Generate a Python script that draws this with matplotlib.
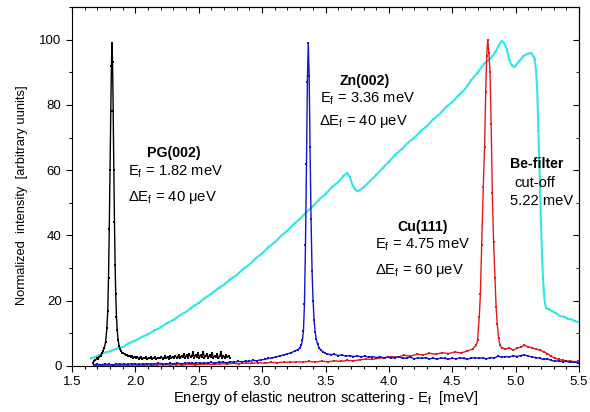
import numpy as np
import matplotlib
matplotlib.use('Agg')
import matplotlib.pyplot as plt
from matplotlib.ticker import MultipleLocator

plt.rcParams['font.family'] = ['Liberation Sans', 'DejaVu Sans']
plt.rcParams['font.size'] = 9

# PG(002) analyser scan
pg_e = [1.665, 1.675, 1.685, 1.695, 1.705, 1.715, 1.725, 1.735, 1.745, 1.755,
        1.765, 1.775, 1.782, 1.788, 1.794, 1.800, 1.806, 1.811, 1.815, 1.820,
        1.825, 1.830, 1.835, 1.840, 1.845, 1.851, 1.857, 1.864, 1.871, 1.879,
        1.887, 1.895,
        1.905, 1.915, 1.925, 1.935, 1.945, 1.955, 1.965, 1.975, 1.985, 1.995,
        2.005, 2.015, 2.025, 2.035, 2.045, 2.055, 2.065, 2.075, 2.085, 2.095,
        2.105, 2.115, 2.125, 2.135, 2.145, 2.155, 2.165, 2.175, 2.185, 2.195,
        2.205, 2.215, 2.225, 2.235, 2.245, 2.255, 2.265, 2.275, 2.285, 2.295,
        2.305, 2.315, 2.325, 2.335, 2.345, 2.355, 2.365, 2.375, 2.385, 2.395,
        2.405, 2.415, 2.425, 2.435, 2.445, 2.455, 2.465, 2.475, 2.485, 2.495,
        2.505, 2.515, 2.525, 2.535, 2.545, 2.555, 2.565, 2.575, 2.585, 2.595,
        2.605, 2.615, 2.625, 2.635, 2.645, 2.655, 2.665, 2.675, 2.685, 2.695,
        2.705, 2.715, 2.725, 2.735, 2.745]
pg_i = [1.0, 1.6, 1.9, 2.3, 2.1, 2.8, 3.2, 3.9, 4.6, 5.6,
        7.4, 11.5, 17, 27, 42, 60, 78, 92, 99, 93,
        78, 60, 44, 31, 22, 15, 11, 8.0, 6.2, 5.2,
        4.6, 4.1,
        3.9, 3.6, 3.3, 3.5, 3.0, 3.2, 2.8, 3.1, 2.6, 2.9,
        2.4, 2.8, 2.2, 2.6, 2.9, 2.1, 2.5, 2.3, 2.7, 2.0,
        2.6, 2.3, 2.8, 2.2, 2.4, 2.9, 2.1, 2.6, 2.3, 2.5,
        2.8, 2.2, 2.6, 3.1, 2.4, 2.7, 2.2, 3.0, 2.5, 2.8,
        2.4, 3.2, 2.6, 2.9, 3.4, 2.5, 3.1, 2.7, 3.6, 2.6,
        3.3, 2.4, 3.8, 2.7, 3.1, 4.2, 2.6, 3.4, 2.8, 3.9,
        2.5, 3.5, 2.9, 4.4, 2.6, 3.2, 3.7, 2.4, 3.3, 2.8,
        4.0, 2.5, 3.1, 2.7, 3.6, 2.3, 3.0, 4.3, 2.6, 3.2,
        2.4, 3.4, 2.7, 3.1, 2.5]

# Zn(002) analyser scan
zn_e = [1.67, 1.70, 1.73, 1.76, 1.79, 1.82, 1.85, 1.88, 1.91, 1.94,
        1.97, 2.00, 2.03, 2.06, 2.09, 2.12, 2.15, 2.18, 2.21, 2.24,
        2.27, 2.30, 2.33, 2.36, 2.39, 2.42, 2.45, 2.48, 2.51, 2.54,
        2.57, 2.60, 2.63, 2.66, 2.69, 2.72, 2.75, 2.78, 2.81, 2.84,
        2.87, 2.90, 2.93, 2.96, 2.99, 3.02, 3.05, 3.08, 3.11, 3.14,
        3.17, 3.20, 3.23, 3.26, 3.28,
        3.300, 3.309, 3.318, 3.326, 3.334, 3.342, 3.350, 3.357, 3.364, 3.371,
        3.378, 3.386, 3.394, 3.402, 3.410, 3.418, 3.427, 3.438, 3.450, 3.465,
        3.480, 3.495,
        3.51, 3.54, 3.57, 3.60, 3.63, 3.66, 3.69, 3.72, 3.75, 3.78,
        3.81, 3.84, 3.87, 3.90, 3.93, 3.96, 3.99, 4.02, 4.05, 4.08,
        4.11, 4.14, 4.17, 4.20, 4.23, 4.26, 4.29, 4.32, 4.35, 4.38,
        4.41, 4.44, 4.47, 4.50, 4.53, 4.56, 4.59, 4.62, 4.65, 4.68,
        4.71, 4.74, 4.77, 4.80, 4.83, 4.86, 4.89, 4.92, 4.95, 4.98,
        5.01, 5.04, 5.07, 5.10, 5.13, 5.16, 5.19, 5.22, 5.25, 5.28,
        5.31, 5.34, 5.37, 5.40, 5.43, 5.46, 5.49]
zn_i = [0.4, 0.5, 0.4, 0.6, 0.5, 0.4, 0.6, 0.5, 0.6, 0.5,
        0.7, 0.6, 0.5, 0.7, 0.6, 0.7, 0.6, 0.8, 0.7, 0.6,
        0.8, 0.7, 0.9, 0.7, 0.8, 1.0, 0.8, 0.9, 1.0, 0.8,
        1.0, 1.1, 0.9, 1.1, 1.2, 1.0, 1.3, 1.2, 1.4, 1.3,
        1.5, 1.4, 1.7, 1.6, 1.9, 2.0, 2.3, 2.5, 2.8, 3.1,
        3.4, 3.7, 4.1, 4.6, 5.0,
        5.6, 6.4, 7.9, 10.8, 19, 37, 62, 87, 99, 89,
        67, 45, 29, 20, 14, 10.5, 8.2, 6.6, 5.5, 4.8,
        4.3, 4.0,
        3.7, 3.5, 3.6, 3.2, 3.4, 3.0, 3.2, 2.9, 3.1, 2.8,
        3.0, 2.7, 2.9, 2.6, 2.8, 2.5, 2.7, 2.4, 2.6, 2.8,
        2.3, 2.5, 2.7, 2.2, 2.5, 2.3, 2.6, 2.2, 2.4, 2.1,
        2.5, 2.3, 2.1, 2.4, 2.2, 2.5, 2.3, 2.1, 2.4, 2.6,
        2.3, 2.5, 2.2, 2.6, 2.4, 3.0, 2.7, 2.9, 2.8, 3.1,
        2.9, 3.2, 3.4, 3.0, 2.8, 2.6, 2.4, 2.0, 2.2, 1.7,
        1.5, 1.6, 1.3, 1.4, 1.1, 1.2, 1.0]

# Cu(111) analyser scan
cu_e = [1.67, 1.72, 1.77, 1.82, 1.87, 1.92, 1.97, 2.02, 2.07, 2.12,
        2.17, 2.22, 2.27, 2.32, 2.37, 2.42, 2.47, 2.52, 2.57, 2.62,
        2.67, 2.72, 2.77, 2.82, 2.87, 2.92, 2.97, 3.02, 3.07, 3.12,
        3.17, 3.22, 3.27, 3.32, 3.37, 3.42, 3.47, 3.52, 3.57, 3.62,
        3.67, 3.72, 3.77, 3.82, 3.87, 3.92, 3.97, 4.02, 4.07, 4.12,
        4.17, 4.22, 4.27, 4.32, 4.37, 4.42, 4.47, 4.52, 4.57, 4.62,
        4.66, 4.69,
        4.700, 4.713, 4.722, 4.732, 4.745, 4.755, 4.764, 4.772, 4.780, 4.789,
        4.798, 4.807, 4.816, 4.826, 4.837, 4.846, 4.855, 4.866, 4.877,
        4.89, 4.92, 4.95, 4.98, 5.01, 5.04, 5.07, 5.10, 5.13, 5.16,
        5.19, 5.22, 5.25, 5.28, 5.31, 5.34, 5.37, 5.40, 5.43, 5.46, 5.49]
cu_i = [0.1, 0.2, 0.1, 0.2, 0.2, 0.1, 0.3, 0.2, 0.3, 0.2,
        0.3, 0.4, 0.3, 0.4, 0.3, 0.5, 0.4, 0.5, 0.6, 0.5,
        0.7, 0.6, 0.8, 0.7, 0.9, 0.8, 1.0, 0.9, 1.1, 1.0,
        1.2, 1.1, 1.3, 1.2, 1.4, 1.2, 1.5, 1.3, 1.6, 1.4,
        1.7, 1.6, 1.9, 2.1, 2.0, 2.4, 2.6, 2.9, 2.7, 3.3,
        3.0, 3.6, 3.4, 3.9, 3.6, 4.1, 3.8, 4.3, 4.0, 4.6,
        5.2, 6.4,
        8, 15, 22, 37, 55, 67, 84, 95, 100, 96,
        90, 74, 53, 38, 27, 18, 13, 8.5, 6.3,
        5.6, 5.2, 5.5, 4.9, 5.4, 5.8, 6.3, 5.9, 5.6, 5.2,
        4.9, 4.4, 3.8, 3.0, 2.4, 2.0, 1.8, 1.5, 1.6, 1.3, 1.4]

# Be-filter transmission
be_e = [1.65, 1.70, 1.75, 1.80, 1.85, 1.90, 1.95, 2.00, 2.05, 2.10,
        2.15, 2.20, 2.25, 2.30, 2.35, 2.40, 2.45, 2.50, 2.55, 2.60,
        2.65, 2.70, 2.75, 2.80, 2.85, 2.90, 2.95, 3.00, 3.05, 3.10,
        3.15, 3.20, 3.25, 3.30, 3.35, 3.40, 3.45, 3.50, 3.55, 3.60,
        3.64, 3.67, 3.69, 3.71, 3.73, 3.75, 3.77, 3.80, 3.85, 3.90,
        3.95, 4.00, 4.05, 4.10, 4.15, 4.20, 4.25, 4.30, 4.35, 4.40,
        4.45, 4.50, 4.55, 4.60, 4.65, 4.70, 4.75, 4.80, 4.84, 4.87,
        4.89, 4.91, 4.93, 4.95, 4.97, 4.99, 5.01, 5.03, 5.06, 5.09,
        5.12, 5.14, 5.15, 5.16, 5.17, 5.18, 5.19, 5.20, 5.21, 5.22,
        5.23, 5.24, 5.26, 5.29, 5.32, 5.35, 5.38, 5.41, 5.44, 5.47, 5.50]
be_i = [2.3, 3.1, 4.0, 4.5, 5.3, 5.8, 7.0, 7.8, 8.9, 9.7,
        10.9, 11.8, 13.1, 14.1, 15.5, 16.6, 18.1, 19.3, 20.9, 22.1,
        23.7, 24.9, 26.6, 27.9, 29.7, 31.1, 33.0, 34.5, 36.4, 37.9,
        39.9, 41.5, 43.5, 45.1, 47.2, 48.9, 51.0, 52.7, 54.7, 56.4,
        58.1, 59.2, 58.0, 55.8, 54.2, 53.5, 53.9, 54.7, 56.6, 58.5,
        60.6, 62.6, 64.7, 66.4, 68.4, 69.9, 71.9, 73.5, 75.6, 77.2,
        79.3, 80.9, 82.9, 84.8, 87.6, 89.9, 92.6, 94.2, 96.1, 98.4,
        99.6, 98.9, 97.1, 93.9, 92.1, 91.5, 92.6, 93.4, 94.9, 95.6,
        95.9, 95.1, 94.0, 91.0, 85.0, 72.0, 58.0, 44.0, 32.0, 24.0,
        19.5, 17.8, 17.4, 16.7, 16.1, 15.3, 15.1, 14.5, 14.3, 13.7, 13.4]

fig = plt.figure(figsize=(5.9, 4.12), dpi=100)
ax = fig.add_axes([72 / 590, 46 / 412, 507 / 590, 359 / 412])

ax.plot(be_e, be_i, color='#33e6e6', lw=1.5, marker='s', ms=2.0, mew=0)
ax.plot(cu_e, cu_i, color='#e01a1a', lw=1.0, marker='s', ms=2.0, mew=0)
ax.plot(zn_e, zn_i, color='#1414c8', lw=1.0, marker='s', ms=2.0, mew=0)
ax.plot(pg_e, pg_i, color='black', lw=1.0, marker='s', ms=2.0, mew=0)

ax.set_xlim(1.5, 5.5)
ax.set_ylim(0, 110)
ax.xaxis.set_major_locator(MultipleLocator(0.5))
ax.xaxis.set_minor_locator(MultipleLocator(0.1))
ax.yaxis.set_major_locator(MultipleLocator(20))
ax.yaxis.set_minor_locator(MultipleLocator(10))
ax.xaxis.set_major_formatter(matplotlib.ticker.FormatStrFormatter('%.1f'))
ax.tick_params(which='major', direction='out', length=4, width=0.8, labelsize=9.5)
ax.tick_params(which='minor', direction='out', length=2.5, width=0.8)

# inward ticks on the top and right frame
top = ax.secondary_xaxis('top')
top.xaxis.set_major_locator(MultipleLocator(0.5))
top.xaxis.set_minor_locator(MultipleLocator(0.1))
top.tick_params(which='major', direction='in', length=4, labeltop=False)
top.tick_params(which='minor', direction='in', length=2.5)
right = ax.secondary_yaxis('right')
right.yaxis.set_major_locator(MultipleLocator(20))
right.yaxis.set_minor_locator(MultipleLocator(10))
right.tick_params(which='major', direction='in', length=4, labelright=False)
right.tick_params(which='minor', direction='in', length=2.5)

ax.set_xlabel(r'Energy of elastic neutron scattering - E$\mathregular{_f}$  [meV]',
              fontsize=10.6)
ax.xaxis.set_label_coords(0.5, -23 / 359, transform=ax.transAxes)
ax.set_ylabel('Normalized  intensity  [arbitrary uunits]', fontsize=9.3)
ax.yaxis.set_label_coords(-44 / 507, (366 - 195) / 359, transform=ax.transAxes)

ax.text(2.305, 65.2, 'PG(002)', fontsize=10.2, fontweight='bold', ha='center', va='center')
ax.text(1.944, 59.4, r'E$\mathregular{_f}$ = 1.82 meV', fontsize=10.6, va='center')
ax.text(1.944, 51.5, r'ΔE$\mathregular{_f}$ = 40 μeV', fontsize=10.6, va='center')

ax.text(3.81, 87.3, 'Zn(002)', fontsize=10.2, fontweight='bold', ha='center', va='center')
ax.text(3.457, 82.0, r'E$\mathregular{_f}$ = 3.36 meV', fontsize=10.6, va='center')
ax.text(3.45, 74.8, r'ΔE$\mathregular{_f}$ = 40 μeV', fontsize=10.6, va='center')

ax.text(4.265, 42.7, 'Cu(111)', fontsize=10.2, fontweight='bold', ha='center', va='center')
ax.text(3.89, 37.1, r'E$\mathregular{_f}$ = 4.75 meV', fontsize=10.6, va='center')
ax.text(3.89, 29.4, r'ΔE$\mathregular{_f}$ = 60 μeV', fontsize=10.6, va='center')

ax.text(4.956, 61.9, 'Be-filter', fontsize=10.2, fontweight='bold', va='center')
ax.text(4.987, 56.0, 'cut-off', fontsize=10.6, va='center')
ax.text(4.956, 50.5, '5.22 meV', fontsize=10.6, va='center')

fig.savefig('out.png', dpi=100)
